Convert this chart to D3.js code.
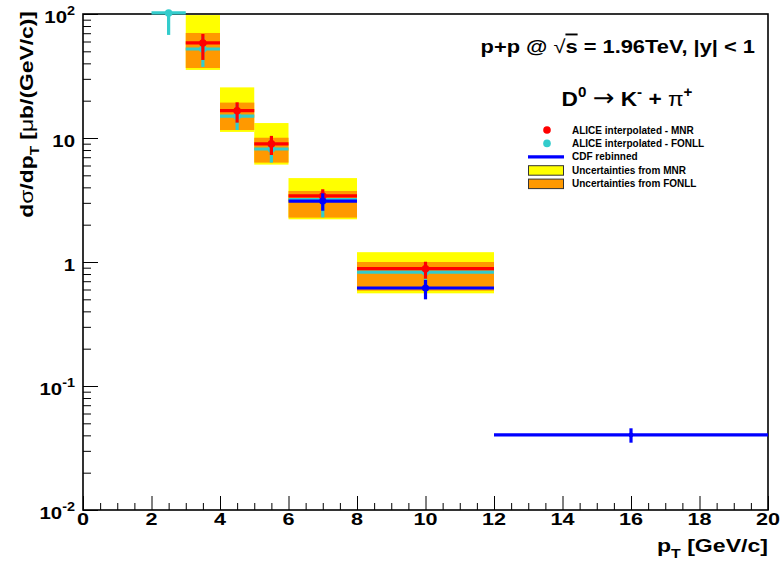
<!DOCTYPE html>
<html>
<head>
<meta charset="utf-8">
<script src="https://cdn.jsdelivr.net/npm/d3@7"></script>
<style>
  html, body { margin: 0; padding: 0; background: #fff; }
  svg { display: block; font-family: "Liberation Sans", Arial, sans-serif; font-weight: bold; }
  .axis path, .axis line { stroke: #000; }
</style>
</head>
<body>
<svg id="chart" width="783" height="569"></svg>
<script>
// ALICE interpolated (MNR) - bins in pT [GeV/c], dsigma/dpT [ub/(GeV/c)]
const mnrLo = [3, 4, 5, 6, 8];
const mnrHi = [4, 5, 6, 8, 12];
const mnrVal = [58.4, 16.6, 8.96, 3.41, 0.883];
const mnrErrUp = [69, 19.4, 10.4, 3.86, 1.005];
const mnrErrDn = [42.6, 13.3, 7.29, 3.0, 0.733];
const mnrBandUp = [98, 25.6, 13.2, 4.75, 1.2];
const mnrBandDn = [35.4, 11.2, 6.1, 2.21, 0.559];

// ALICE interpolated (FONLL)
const fonllLo = [2, 3, 4, 5, 6, 8];
const fonllHi = [3, 4, 5, 6, 8, 12];
const fonllVal = [102, 52.2, 15.0, 8.15, 3.19, 0.83];
const fonllErrUp = [140, 66, 18.8, 10.0, 3.7, 0.98];
const fonllErrDn = [67.8, 37.4, 11.6, 6.33, 2.29, 0.62];
const fonllBandLo = [3, 4, 5, 6, 8];
const fonllBandHi = [4, 5, 6, 8, 12];
const fonllBandUp = [70.3, 19.3, 10.05, 3.74, 1.0];
const fonllBandDn = [36.7, 11.6, 6.33, 2.28, 0.587];

// CDF rebinned
const cdfLo = [6, 8, 12];
const cdfHi = [8, 12, 20];
const cdfVal = [3.1, 0.617, 0.0403];
const cdfErrUp = [3.58, 0.716, 0.0456];
const cdfErrDn = [2.59, 0.5, 0.0349];

const xMajor = [0, 2, 4, 6, 8, 10, 12, 14, 16, 18, 20];
const yMajor = [0.01, 0.1, 1, 10, 100];
const yLabels = [["10", "-2"], ["10", "-1"], ["1", ""], ["10", ""], ["10", "2"]];

const legendItems = [
  { label: "ALICE interpolated - MNR", kind: "dot", color: "#ff0000" },
  { label: "ALICE interpolated - FONLL", kind: "dot", color: "#33cccc" },
  { label: "CDF rebinned", kind: "line", color: "#0000ff" },
  { label: "Uncertainties from MNR", kind: "box", color: "#ffff00" },
  { label: "Uncertainties from FONLL", kind: "box", color: "#ff9900" },
];

const C = { yellow: "#ffff00", orange: "#ff9900", cyan: "#33cccc", red: "#ff0000", blue: "#0000ff" };

const svg = d3.select("#chart");
const m = { left: 83, right: 768, top: 14, bottom: 510 };
const x = d3.scaleLinear().domain([0, 20]).range([m.left, m.right]);
const y = d3.scaleLog().domain([0.01, 100]).range([m.bottom, m.top]);

// text stretched horizontally (ROOT fonts come out wider than Arial here)
function txt(parent, tx, ty, anchor, size, sx, rot = 0) {
  return parent.append("text")
    .attr("transform", `translate(${tx},${ty})${rot ? ` rotate(${rot})` : ""} scale(${sx},1)`)
    .attr("text-anchor", anchor).attr("font-size", size);
}

// frame first, data drawn on top (as ROOT does)
svg.append("rect").attr("x", m.left).attr("y", m.top)
  .attr("width", m.right - m.left).attr("height", m.bottom - m.top)
  .attr("fill", "none").attr("stroke", "#000").attr("stroke-width", 1.6);

svg.append("defs").append("clipPath").attr("id", "plotClip")
  .append("rect").attr("x", m.left - 2).attr("y", m.top - 5)
  .attr("width", m.right - m.left + 4).attr("height", m.bottom - m.top + 7);

const plot = svg.append("g").attr("clip-path", "url(#plotClip)");

function bands(lo, hi, up, dn, color) {
  plot.append("g").selectAll("rect").data(lo).join("rect")
    .attr("x", (d) => x(d))
    .attr("width", (d, i) => x(hi[i]) - x(d))
    .attr("y", (d, i) => y(up[i]))
    .attr("height", (d, i) => y(dn[i]) - y(up[i]))
    .attr("fill", color);
}

function points(lo, hi, val, up, dn, color, r) {
  const g = plot.append("g").attr("stroke", color).attr("stroke-width", 3.2).attr("fill", color);
  const xc = (i) => x((lo[i] + hi[i]) / 2);
  g.selectAll("line.h").data(val).join("line").attr("class", "h")
    .attr("x1", (d, i) => x(lo[i])).attr("x2", (d, i) => x(hi[i]))
    .attr("y1", (d) => y(d)).attr("y2", (d) => y(d));
  g.selectAll("line.v").data(val).join("line").attr("class", "v")
    .attr("x1", (d, i) => xc(i)).attr("x2", (d, i) => xc(i))
    .attr("y1", (d, i) => Math.max(y(up[i]), m.top)).attr("y2", (d, i) => y(dn[i]));
  g.selectAll("circle").data(val).join("circle")
    .attr("cx", (d, i) => xc(i)).attr("cy", (d) => y(d))
    .attr("r", (d, i) => r(i)).attr("stroke", "none");
}

bands(mnrLo, mnrHi, mnrBandUp, mnrBandDn, C.yellow);
bands(fonllBandLo, fonllBandHi, fonllBandUp, fonllBandDn, C.orange);
points(fonllLo, fonllHi, fonllVal, fonllErrUp, fonllErrDn, C.cyan, () => 3.8);
points(mnrLo, mnrHi, mnrVal, mnrErrUp, mnrErrDn, C.red, () => 3.8);
points(cdfLo, cdfHi, cdfVal, cdfErrUp, cdfErrDn, C.blue, (i) => (i === 2 ? 2.4 : 3.6));

// axes (ROOT style: ticks inside the frame)
const xMinor = d3.range(0, 20.01, 0.5).filter((v) => v % 2 !== 0);
svg.append("g").attr("class", "axis").attr("transform", `translate(0,${m.bottom})`)
  .call(d3.axisBottom(x).tickValues(xMinor).tickSize(-7).tickFormat(""))
  .call((g) => g.select(".domain").remove());
svg.append("g").attr("class", "axis").attr("transform", `translate(0,${m.bottom})`)
  .call(d3.axisBottom(x).tickValues(xMajor).tickSize(-14).tickFormat(""))
  .call((g) => g.select(".domain").remove());

const xl = svg.append("g");
xMajor.forEach((v) => txt(xl, x(v), 525, "middle", 17, 1.27).text(v));

const yMinor = [];
[0.01, 0.1, 1, 10].forEach((dec) => { for (let k = 2; k <= 9; k++) yMinor.push(dec * k); });
svg.append("g").attr("class", "axis").attr("transform", `translate(${m.left},0)`)
  .call(d3.axisLeft(y).tickValues(yMinor).tickSize(-8).tickFormat(""))
  .call((g) => g.select(".domain").remove());
svg.append("g").attr("class", "axis").attr("transform", `translate(${m.left},0)`)
  .call(d3.axisLeft(y).tickValues(yMajor).tickSize(-15).tickFormat(""))
  .call((g) => g.select(".domain").remove());

const yl = svg.append("g");
yMajor.forEach((v, i) => {
  const t = txt(yl, 75, y(v) + 9, "end", 17, 1.2);
  t.append("tspan").text(yLabels[i][0]);
  if (yLabels[i][1]) t.append("tspan").attr("font-size", 12).attr("dy", -8).text(yLabels[i][1]);
});

// axis titles
const xt = txt(svg, 768, 552, "end", 17.5, 1.32);
xt.append("tspan").text("p");
xt.append("tspan").attr("font-size", 12).attr("dy", 6).text("T");
xt.append("tspan").attr("dy", -6).text(" [GeV/c]");

const yt = txt(svg, 33, 11, "end", 18, 1.27, -90);
yt.append("tspan").text("d");
yt.append("tspan").attr("font-weight", "normal").text("σ");
yt.append("tspan").text("/dp");
yt.append("tspan").attr("font-size", 12).attr("dy", 6).text("T");
yt.append("tspan").attr("dy", -6).text(" [");
yt.append("tspan").attr("font-weight", "normal").text("μ");
yt.append("tspan").text("b/(GeV/c)]");

// header texts
const h1 = txt(svg, 755, 53, "end", 19, 1.15);
h1.append("tspan").text("p+p @ ");
h1.append("tspan").attr("font-weight", "normal").text("√");
h1.append("tspan").attr("text-decoration", "overline").text("s");
h1.append("tspan").text(" = 1.96TeV, |y| < 1");

const h2 = txt(svg, 627, 106, "middle", 21, 1.08);
h2.append("tspan").text("D");
h2.append("tspan").attr("font-size", 14).attr("dy", -9).text("0");
h2.append("tspan").attr("dy", 9).text(" ");
h2.append("tspan").attr("font-weight", "normal").attr("font-family", "DejaVu Sans").attr("font-size", 24).text("→");
h2.append("tspan").text(" K");
h2.append("tspan").attr("font-size", 14).attr("dy", -9).text("-");
h2.append("tspan").attr("dy", 9).text(" + ");
h2.append("tspan").attr("font-weight", "normal").text("π");
h2.append("tspan").attr("font-size", 14).attr("dy", -9).text("+");

// legend
const lg = svg.append("g").attr("font-size", 10);
legendItems.forEach((it, i) => {
  const cy = 130 + i * 13.4;
  const e = lg.append("g").attr("transform", `translate(0,${cy})`);
  if (it.kind === "dot") e.append("circle").attr("cx", 547).attr("r", 3.8).attr("fill", it.color);
  if (it.kind === "line") e.append("line").attr("x1", 528).attr("x2", 564).attr("stroke", it.color).attr("stroke-width", 3.2);
  if (it.kind === "box") e.append("rect").attr("x", 528.5).attr("y", -4.5).attr("width", 35).attr("height", 9.5)
    .attr("fill", it.color).attr("stroke", "#333").attr("stroke-width", 1);
  e.append("text").attr("x", 572).attr("y", 3.6).text(it.label);
});
</script>
</body>
</html>
